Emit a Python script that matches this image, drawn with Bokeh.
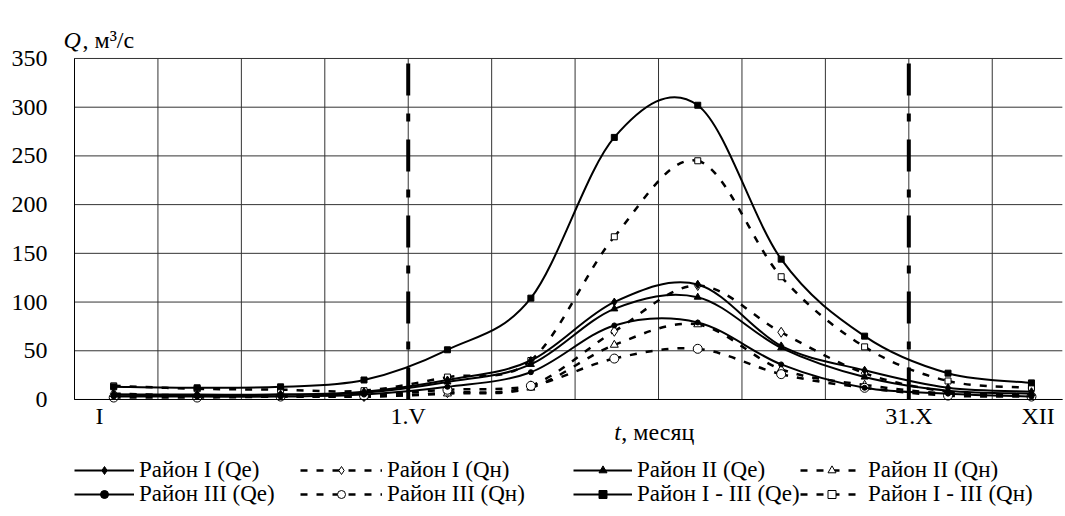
import numpy as np
from bokeh.plotting import figure
from bokeh.models import Range1d, FixedTicker, Legend, LegendItem, Label, ColumnDataSource
from bokeh.embed import file_html
from bokeh.resources import INLINE

# ---------------- data ----------------
month_mid = [0.47, 1.47, 2.47, 3.47, 4.47, 5.47, 6.47, 7.47, 8.47, 9.47, 10.47, 11.47]
month_bounds = [0, 1, 2, 3, 4, 5, 6, 7, 8, 9, 10, 11]
x_end = 11.84
y_grid = [0, 50, 100, 150, 200, 250, 300, 350]
x_tick_values = [0.3, 4.0, 10.0, 11.55]
x_tick_labels = ["I", "1.V", "31.X", "XII"]
season_bounds = [4.0, 10.0]

q1_e = [5, 5, 5, 8, 20, 40, 100, 118, 55, 30, 12, 8]
q2_e = [5, 4, 5, 7, 18, 36, 93, 105, 53, 23, 9, 6]
q3_e = [3, 3, 3, 5, 13, 28, 76, 79, 36, 12, 6, 3]
q123_e = [13, 12, 13, 20, 51, 104, 269, 302, 144, 65, 27, 17]
q1_n = [6, 4, 4, 3, 7, 14, 70, 117, 69, 27, 8, 5]
q2_n = [5, 4, 3, 3, 6, 12, 56, 77, 31, 15, 6, 4]
q3_n = [2, 2, 3, 4, 10, 14, 42, 52, 26, 12, 4, 3]
q123_n = [14, 11, 10, 9, 23, 40, 167, 245, 126, 54, 19, 12]

names = ["Район I (Qe)", "Район I (Qн)", "Район II (Qe)", "Район II (Qн)",
         "Район III (Qe)", "Район III (Qн)", "Район I - III (Qe)", "Район I - III (Qн)"]

FONT = "Liberation Serif"
FS = "24px"
LFS = "23px"


def smooth_source(xs, ys, k=1.0 / 6.0):
    x = np.asarray(xs, float)
    y = np.asarray(ys, float)
    xp = np.concatenate([[x[0]], x, [x[-1]]])
    yp = np.concatenate([[y[0]], y, [y[-1]]])
    i = np.arange(len(x) - 1)
    return ColumnDataSource(dict(
        x0=x[:-1], y0=y[:-1], x1=x[1:], y1=y[1:],
        cx0=x[i] + (xp[i + 2] - xp[i]) * k, cy0=y[i] + (yp[i + 2] - yp[i]) * k,
        cx1=x[i + 1] - (xp[i + 3] - xp[i + 1]) * k, cy1=y[i + 1] - (yp[i + 3] - yp[i + 1]) * k))


# frame covers the whole canvas; axes are pinned at 0
p = figure(frame_width=1065, frame_height=516,
           x_range=Range1d(-0.887, 11.878), y_range=Range1d(-120.1, 409.5),
           output_backend="svg", toolbar_location=None,
           min_border=0, min_border_left=0, min_border_right=0, min_border_top=0, min_border_bottom=0,
           outline_line_color=None, background_fill_color="white", border_fill_color="white")
p.grid.visible = False

GRID = "#333333"
p.segment(x0=month_bounds, y0=[y_grid[0]] * len(month_bounds), x1=month_bounds,
          y1=[y_grid[-1]] * len(month_bounds), line_color=GRID, line_width=1)
p.segment(x0=[month_bounds[0]] * len(y_grid), y0=y_grid, x1=[x_end] * len(y_grid), y1=y_grid,
          line_color=GRID, line_width=1)

# axes
p.xaxis.fixed_location = 0
p.xaxis.bounds = (month_bounds[0], x_end)
p.yaxis.fixed_location = 0
p.yaxis.bounds = (y_grid[0], y_grid[-1])
p.xaxis.ticker = FixedTicker(ticks=x_tick_values)
p.xaxis.major_label_overrides = {v: t for v, t in zip(x_tick_values, x_tick_labels)}
p.yaxis.ticker = FixedTicker(ticks=y_grid)
for ax in (p.xaxis, p.yaxis):
    ax.axis_line_color = "black"
    ax.axis_line_width = 1
    ax.major_tick_line_color = None
    ax.minor_tick_line_color = None
    ax.major_tick_out = 0
    ax.major_tick_in = 0
    ax.minor_tick_out = 0
    ax.minor_tick_in = 0
    ax.major_label_text_font = FONT
    ax.major_label_text_font_size = FS
    ax.major_label_text_color = "black"
p.xaxis.major_label_standoff = 4
p.yaxis.major_label_standoff = 27

# season boundaries (thick dash-dot verticals)
p.segment(x0=season_bounds, y0=[y_grid[0]] * 2, x1=season_bounds, y1=[y_grid[-1]] * 2,
          line_color="black", line_width=4, line_dash="32 18 8 18")

# series
styles = [
    (q1_e, "solid", "diamond", 8, "black"),
    (q1_n, "dashed", "diamond", 10, "white"),
    (q2_e, "solid", "triangle", 7, "black"),
    (q2_n, "dashed", "triangle", 8, "white"),
    (q3_e, "solid", "circle", 5, "black"),
    (q3_n, "dashed", "circle", 9, "white"),
    (q123_e, "solid", "square", 6, "black"),
    (q123_n, "dashed", "square", 6, "white"),
]

order = [1, 3, 5, 7, 0, 2, 4, 6]
rend = {}
for idx in order:
    vals, ls, mk, sz, fc = styles[idx]
    src = smooth_source(month_mid, vals)
    if ls == "solid":
        r1 = p.bezier(x0="x0", y0="y0", x1="x1", y1="y1", cx0="cx0", cy0="cy0", cx1="cx1", cy1="cy1",
                      source=src, line_color="black", line_width=2)
    else:
        r1 = p.bezier(x0="x0", y0="y0", x1="x1", y1="y1", cx0="cx0", cy0="cy0", cx1="cx1", cy1="cy1",
                      source=src, line_color="black", line_width=2.5, line_dash="7 9")
    r2 = p.scatter(month_mid, vals, marker=mk, size=sz, fill_color=fc, line_color="black", line_width=1)
    rend[idx] = [r1, r2]

# legend: 4 columns x 2 rows, one legend box per entry
col_x = [74, 300, 573, 800]
col_glyph_w = [60, 82, 59, 63]
row_vy = [33, 9]
for m in range(8):
    row, col = divmod(m, 4)
    leg = Legend(items=[LegendItem(label=names[m], renderers=rend[m])],
                 location=(col_x[col], row_vy[row]), orientation="vertical",
                 glyph_width=col_glyph_w[col], glyph_height=20, label_standoff=5, spacing=0,
                 padding=0, margin=0, border_line_color=None, background_fill_alpha=0,
                 label_text_font=FONT, label_text_font_size=LFS, label_text_color="black",
                 label_height=24)
    p.add_layout(leg, "center")

# axis titles
p.add_layout(Label(x=-0.132, y=368.5, text="Q", text_font=FONT, text_font_style="italic",
                   text_font_size=FS, text_baseline="alphabetic", text_color="black"))
p.add_layout(Label(x=-0.132, y=368.5, x_offset=19, text=", м³/с", text_font=FONT,
                   text_font_size=FS, text_baseline="alphabetic", text_color="black"))
p.add_layout(Label(x=6.47, y=-33, text="t", text_font=FONT, text_font_style="italic",
                   text_font_size=FS, text_baseline="alphabetic", text_color="black"))
p.add_layout(Label(x=6.47, y=-33, x_offset=7, text=", месяц", text_font=FONT,
                   text_font_size=FS, text_baseline="alphabetic", text_color="black"))

open("out.html", "w").write(file_html(p, INLINE))
